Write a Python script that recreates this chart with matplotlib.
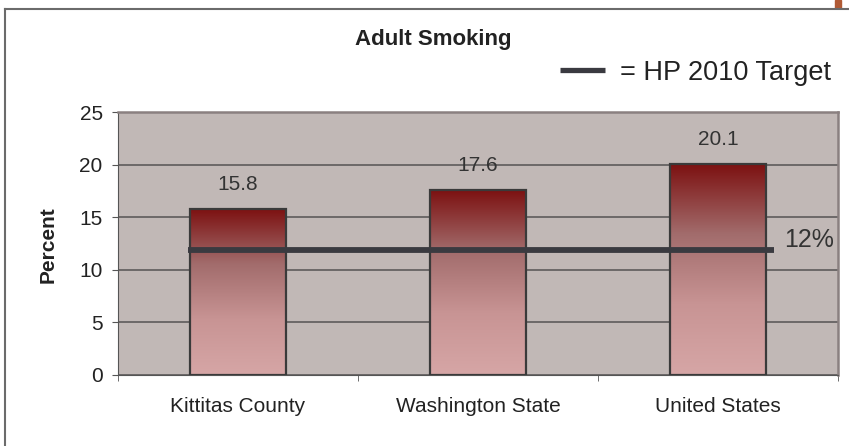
import numpy as np
import matplotlib
matplotlib.use("Agg")
import matplotlib.pyplot as plt
from matplotlib.colors import LinearSegmentedColormap
from matplotlib.patches import Rectangle
from matplotlib.lines import Line2D

# === data ===
categories = ["Kittitas County", "Washington State", "United States"]
values = [15.8, 17.6, 20.1]
target = 12
yticks = [0, 5, 10, 15, 20, 25]

plt.rcParams['font.family'] = ['Liberation Sans', 'DejaVu Sans']

W, H = 849, 446
fig = plt.figure(figsize=(W / 100, H / 100), dpi=100)
fig.patch.set_facecolor("white")

# outer frame (only top + left visible in the source)
fig.add_artist(Line2D([5 / W, 5 / W], [0, 1 - 9 / H], color="#6b6b6b", lw=1.5))
fig.add_artist(Line2D([5 / W, 1], [1 - 9 / H, 1 - 9 / H], color="#6b6b6b", lw=1.5))
fig.add_artist(Rectangle((835 / W, 1 - 8 / H), 6 / W, 8 / H, color="#b05a35",
                         transform=fig.transFigure))

ax = fig.add_axes([118 / W, 1 - 375 / H, (838 - 118) / W, (375 - 112) / H])
ax.set_facecolor("#c1b8b6")

ax.set_yticks(yticks)
ax.yaxis.grid(True, color="#666262", lw=1.3)
ax.set_axisbelow(True)

cmap = LinearSegmentedColormap.from_list("bar", ["#d6a6a6", "#c89494", "#a26c6c", "#7c1010"])
grad = np.linspace(0, 1, 256).reshape(-1, 1)
bw = 0.4
x = np.arange(len(categories))
for xi, v in zip(x, values):
    im = ax.imshow(grad, extent=[xi - bw / 2, xi + bw / 2, 0, v], origin="lower",
                   cmap=cmap, aspect="auto", zorder=2)
    r = Rectangle((xi - bw / 2, 0), bw, v, fill=False, edgecolor="#3a3a3a", lw=1.6, zorder=3)
    ax.add_patch(r)
    im.set_clip_path(r)
    ax.text(xi, v + 1.8, f"{v}", ha="center", va="baseline", fontsize=15, color="#333333")

ax.set_xlim(-0.5, 2.5)
ax.set_ylim(0, 25)

# HP 2010 target line
ax.plot([-0.21, 2.235], [target - 0.15, target - 0.15], color="#3a3a40", lw=4.2,
        solid_capstyle="butt", zorder=4)
ax.text(2.275, target + 0.2, f"{target}%", ha="left", va="baseline", fontsize=18, color="#333333")

ax.set_xticks(x)
ax.set_xticklabels(categories, fontsize=15, color="#222222")
ax.set_xticks([-0.5, 0.5, 1.5, 2.5], minor=True)
ax.tick_params(axis="x", which="major", length=0, pad=16)
ax.tick_params(axis="x", which="minor", length=4.5, color="#555555")
ax.tick_params(axis="y", labelsize=15, length=4, pad=7, color="#555555", labelcolor="#222222")

for s in ["top", "right"]:
    ax.spines[s].set_color("#8a8080")
    ax.spines[s].set_linewidth(1.8)
for s in ["left", "bottom"]:
    ax.spines[s].set_color("#555555")

fig.text(48 / W, 1 - 245 / H, "Percent", rotation=90, ha="center", va="center",
         fontsize=15, fontweight="bold", color="#222222")

fig.text(433 / W, 1 - 45 / H, "Adult Smoking", ha="center", va="baseline",
         fontsize=16, fontweight="bold", color="#222222")
fig.add_artist(Line2D([560 / W, 605 / W], [1 - 70 / H, 1 - 70 / H], color="#3a3a40", lw=3.8,
                      solid_capstyle="butt"))
fig.text(620 / W, 1 - 80 / H, "= HP 2010 Target", ha="left", va="baseline",
         fontsize=19.5, color="#222222")

fig.savefig("out.png", dpi=100)
